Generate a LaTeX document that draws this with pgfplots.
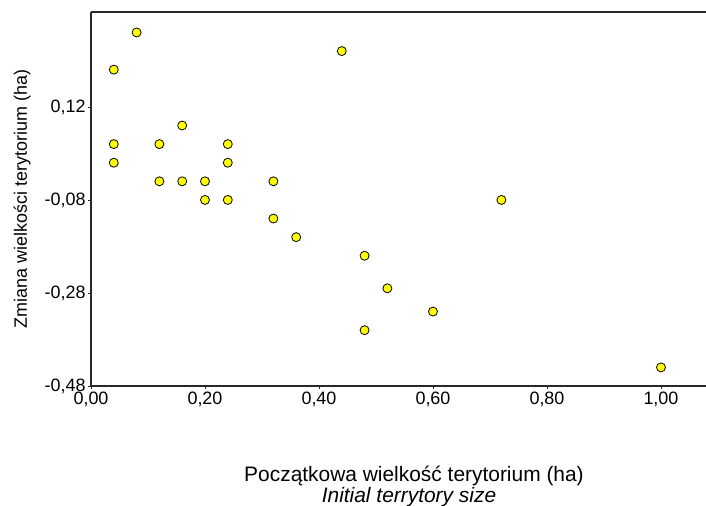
\documentclass[border=0pt]{standalone}
\usepackage{fontspec}
\setmainfont{Liberation Sans}
\usepackage{pgfplots}
\pgfplotsset{compat=1.18}
\definecolor{dotyellow}{RGB}{255,255,0}
\definecolor{spine}{RGB}{40,40,40}

\begin{document}
\begin{tikzpicture}[x=1bp,y=1bp]
\useasboundingbox (-91bp,-120bp) rectangle (615bp,386bp);
\begin{axis}[
  at={(0,0)},anchor=south west,
  scale only axis,width=615bp,height=374bp,
  xmin=0,xmax=1.079,ymin=-0.48,ymax=0.324,
  axis x line*=bottom,axis y line*=left,
  axis line style={spine,line width=1.1pt,-},
  xtick={0,0.2,0.4,0.6,0.8,1.0},
  xticklabels={{0,00},{0,20},{0,40},{0,60},{0,80},{1,00}},
  ytick={-0.48,-0.28,-0.08,0.12},
  yticklabels={{-0,48},{-0,28},{-0,08},{0,12}},
  tick align=outside,major tick length=3bp,
  tick style={spine,line width=0.6pt},
  tick label style={font=\fontsize{18}{20}\selectfont},
  xticklabel style={yshift=1bp},
  yticklabel style={xshift=1bp},
  clip=false,
]
\addplot[only marks,mark=*,mark size=4.5bp,
  mark options={fill=dotyellow,draw=black,line width=0.8pt}]
coordinates {
(0.04,0.20) (0.08,0.28) (0.44,0.24) (0.16,0.08)
(0.04,0.04) (0.12,0.04) (0.24,0.04)
(0.04,0.00) (0.24,0.00)
(0.12,-0.04) (0.16,-0.04) (0.20,-0.04) (0.32,-0.04)
(0.20,-0.08) (0.24,-0.08) (0.72,-0.08)
(0.32,-0.12) (0.36,-0.16) (0.48,-0.20)
(0.52,-0.27) (0.60,-0.32) (0.48,-0.36) (1.00,-0.44)
};
\draw[spine,line width=1.1pt] (rel axis cs:0,1) -- (rel axis cs:1,1);
\end{axis}
\node[rotate=90,anchor=base,font=\fontsize{18}{20}\selectfont] at (-64bp,187bp) {Zmiana wielkości terytorium (ha)};
\node[anchor=base,font=\fontsize{21}{24}\selectfont] at (323bp,-95bp) {Początkowa wielkość terytorium (ha)};
\node[anchor=base,font=\fontsize{21}{24}\selectfont\itshape] at (318bp,-116bp) {Initial terrytory size};
\end{tikzpicture}
\end{document}
